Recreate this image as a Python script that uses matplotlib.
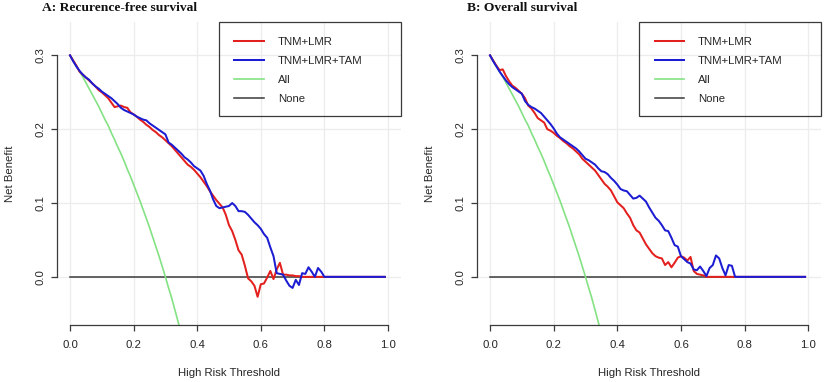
import numpy as np
import matplotlib
matplotlib.use("Agg")
import matplotlib.pyplot as plt
from matplotlib.patches import Rectangle

thresholds = np.round(np.arange(0, 1.0, 0.01), 2)

labels = ["TNM+LMR", "TNM+LMR+TAM", "All", "None"]
titles = ["A: Recurence-free survival", "B: Overall survival"]
xticks = [0.0, 0.2, 0.4, 0.6, 0.8, 1.0]
yticks = [0.0, 0.1, 0.2, 0.3]

# Panel A
a_tnm_lmr = [
    0.300, 0.293, 0.286, 0.278, 0.274, 0.270, 0.266, 0.262, 0.258, 0.253,
    0.250, 0.246, 0.242, 0.236, 0.230, 0.231, 0.232, 0.230, 0.229, 0.223,
    0.220, 0.217, 0.213, 0.210, 0.206, 0.203, 0.199, 0.196, 0.192, 0.189,
    0.185, 0.181, 0.177, 0.172, 0.167, 0.162, 0.157, 0.152, 0.149, 0.145,
    0.140, 0.135, 0.129, 0.123, 0.116, 0.110, 0.104, 0.099, 0.094, 0.084,
    0.070, 0.062, 0.050, 0.036, 0.030, 0.015, -0.002, -0.006, -0.012, -0.027,
    -0.010, -0.009, -0.001, 0.008, -0.003, 0.010, 0.019, 0.003, 0.003, 0.002,
    0.002, 0.001, 0.001, 0.000, 0.000, 0.000, 0.000, 0.000, 0.000, 0.000,
    0.000, 0.000, 0.000, 0.000, 0.000, 0.000, 0.000, 0.000, 0.000, 0.000,
    0.000, 0.000, 0.000, 0.000, 0.000, 0.000, 0.000, 0.000, 0.000, 0.000,
]
a_tnm_lmr_tam = [
    0.300, 0.292, 0.285, 0.279, 0.274, 0.270, 0.267, 0.262, 0.258, 0.255,
    0.251, 0.248, 0.245, 0.242, 0.238, 0.234, 0.229, 0.226, 0.224, 0.222,
    0.220, 0.217, 0.215, 0.213, 0.212, 0.208, 0.205, 0.202, 0.199, 0.196,
    0.193, 0.182, 0.179, 0.175, 0.171, 0.167, 0.162, 0.159, 0.155, 0.150,
    0.147, 0.144, 0.137, 0.126, 0.117, 0.105, 0.096, 0.093, 0.094, 0.095,
    0.096, 0.100, 0.096, 0.089, 0.089, 0.088, 0.084, 0.079, 0.074, 0.070,
    0.065, 0.058, 0.053, 0.040, 0.028, 0.005, 0.004, 0.003, -0.005, -0.012,
    -0.015, -0.004, -0.011, 0.005, 0.004, 0.013, 0.007, 0.000, 0.012, 0.007,
    0.000, 0.000, 0.000, 0.000, 0.000, 0.000, 0.000, 0.000, 0.000, 0.000,
    0.000, 0.000, 0.000, 0.000, 0.000, 0.000, 0.000, 0.000, 0.000, 0.000,
]

# Panel B
b_tnm_lmr = [
    0.300, 0.293, 0.286, 0.280, 0.281, 0.272, 0.265, 0.259, 0.256, 0.252,
    0.248, 0.242, 0.232, 0.228, 0.222, 0.215, 0.212, 0.209, 0.200, 0.198,
    0.195, 0.191, 0.188, 0.184, 0.181, 0.177, 0.174, 0.170, 0.166, 0.160,
    0.156, 0.152, 0.148, 0.144, 0.138, 0.132, 0.126, 0.122, 0.117, 0.109,
    0.101, 0.097, 0.093, 0.086, 0.080, 0.070, 0.063, 0.060, 0.052, 0.044,
    0.038, 0.032, 0.028, 0.026, 0.025, 0.016, 0.020, 0.013, 0.019, 0.026,
    0.028, 0.026, 0.022, 0.027, 0.008, 0.004, 0.003, 0.002, 0.000, 0.000,
    0.000, 0.000, 0.000, 0.000, 0.000, 0.000, 0.000, 0.000, 0.000, 0.000,
    0.000, 0.000, 0.000, 0.000, 0.000, 0.000, 0.000, 0.000, 0.000, 0.000,
    0.000, 0.000, 0.000, 0.000, 0.000, 0.000, 0.000, 0.000, 0.000, 0.000,
]
b_tnm_lmr_tam = [
    0.300, 0.292, 0.285, 0.278, 0.272, 0.266, 0.261, 0.257, 0.254, 0.251,
    0.248, 0.238, 0.233, 0.230, 0.228, 0.225, 0.222, 0.217, 0.212, 0.207,
    0.201, 0.194, 0.189, 0.186, 0.183, 0.180, 0.177, 0.174, 0.170, 0.165,
    0.160, 0.158, 0.155, 0.152, 0.147, 0.143, 0.142, 0.139, 0.134, 0.130,
    0.125, 0.119, 0.117, 0.116, 0.111, 0.106, 0.107, 0.110, 0.106, 0.102,
    0.094, 0.087, 0.080, 0.076, 0.070, 0.063, 0.062, 0.053, 0.043, 0.041,
    0.028, 0.024, 0.020, 0.018, 0.010, 0.009, 0.014, 0.008, 0.001, 0.012,
    0.016, 0.029, 0.025, 0.012, 0.002, 0.016, 0.015, 0.000, 0.000, 0.000,
    0.000, 0.000, 0.000, 0.000, 0.000, 0.000, 0.000, 0.000, 0.000, 0.000,
    0.000, 0.000, 0.000, 0.000, 0.000, 0.000, 0.000, 0.000, 0.000, 0.000,
]

# "All" (treat everyone) curve, shared by both panels, thresholds 0.00-0.35
all_thresholds = np.round(np.arange(0, 0.36, 0.01), 2)
treat_all = [
    0.300, 0.293, 0.286, 0.278, 0.271, 0.263, 0.255, 0.247, 0.239, 0.231,
    0.222, 0.213, 0.205, 0.195, 0.186, 0.176, 0.167, 0.157, 0.146, 0.136,
    0.125, 0.114, 0.103, 0.091, 0.079, 0.067, 0.054, 0.041, 0.028, 0.014,
    0.000, -0.015, -0.029, -0.045, -0.061, -0.077,
]
treat_none = [0.0, 0.0]
none_x = [0.0, 0.99]

panels = [
    (titles[0], a_tnm_lmr, a_tnm_lmr_tam),
    (titles[1], b_tnm_lmr, b_tnm_lmr_tam),
]

fig = plt.figure(figsize=(8.25, 3.82), dpi=100)
W, H = 825, 382
axes_px = [(57.3, 400.7), (477.3, 821.0)]
top_px, bot_px = 22, 325
title_x = [-0.0446, -0.029]

red = "#e3201e"
blue = "#1c1cd2"
green = "#84e284"
gray = "#3a3a3a"
textc = "#262626"
sans = ["Liberation Sans", "DejaVu Sans"]
fs = 8.2

for i, (title, m1, m2) in enumerate(panels):
    l, r = axes_px[i]
    ax = fig.add_axes([l / W, 1 - bot_px / H, (r - l) / W, (bot_px - top_px) / H])
    ax.set_xlim(-0.04, 1.04)
    ax.set_ylim(-0.0652, 0.3452)
    for xv in xticks:
        ax.axvline(xv, color="#ececec", lw=0.9, zorder=0)
    for yv in yticks:
        ax.axhline(yv, color="#ececec", lw=0.9, zorder=0)
    ax.plot(none_x, treat_none, color=gray, lw=1.1, zorder=2)
    ax.plot(all_thresholds, treat_all, color=green, lw=1.2, zorder=2)
    ax.plot(thresholds, m1, color=red, lw=1.45, zorder=3)
    ax.plot(thresholds, m2, color=blue, lw=1.45, zorder=4)

    for s in ["top", "right"]:
        ax.spines[s].set_visible(False)
    ax.spines["left"].set_bounds(0, 0.3)
    ax.spines["bottom"].set_bounds(0, 1)
    for s in ["left", "bottom"]:
        ax.spines[s].set_color(gray)
        ax.spines[s].set_linewidth(0.9)
    ax.set_xticks(xticks)
    ax.set_yticks(yticks)
    ax.set_xticklabels([f"{v:.1f}" for v in xticks], family=sans, fontsize=fs, color=textc)
    ax.set_yticklabels([f"{v:.1f}" for v in yticks], family=sans, fontsize=fs, color=textc,
                       rotation=90, va="center")
    ax.tick_params(axis="both", length=4.5, width=0.9, color=gray)
    ax.tick_params(axis="x", pad=6.0)
    ax.tick_params(axis="y", pad=4.0)
    ax.set_xlabel("High Risk Threshold", family=sans, fontsize=fs, color=textc)
    ax.set_ylabel("Net Benefit", family=sans, fontsize=fs, color=textc)
    ax.xaxis.set_label_coords(0.5, -0.142)
    ax.yaxis.set_label_coords(-0.122, 0.5)
    ax.text(title_x[i], 1.046, title, transform=ax.transAxes, ha="left", va="center",
            family=["Liberation Serif", "DejaVu Serif"], fontweight="bold", fontsize=9.7,
            color="#111111")

    # legend frame
    ax.add_patch(Rectangle((0.471, 0.69), 0.529, 0.31, transform=ax.transAxes,
                           fill=False, edgecolor=gray, lw=0.9, zorder=5, clip_on=False))
    handles = [
        plt.Line2D([], [], color=red, lw=1.45),
        plt.Line2D([], [], color=blue, lw=1.45),
        plt.Line2D([], [], color=green, lw=1.2),
        plt.Line2D([], [], color=gray, lw=1.1),
    ]
    leg = ax.legend(handles, labels, loc="upper left", bbox_to_anchor=(0.471, 1.0),
                    frameon=False, prop={"family": sans, "size": fs},
                    handlelength=2.6, handletextpad=1.2, labelspacing=0.78,
                    borderpad=1.35, borderaxespad=0.0)
    for t in leg.get_texts():
        t.set_color(textc)

fig.savefig("out.png", dpi=100)
